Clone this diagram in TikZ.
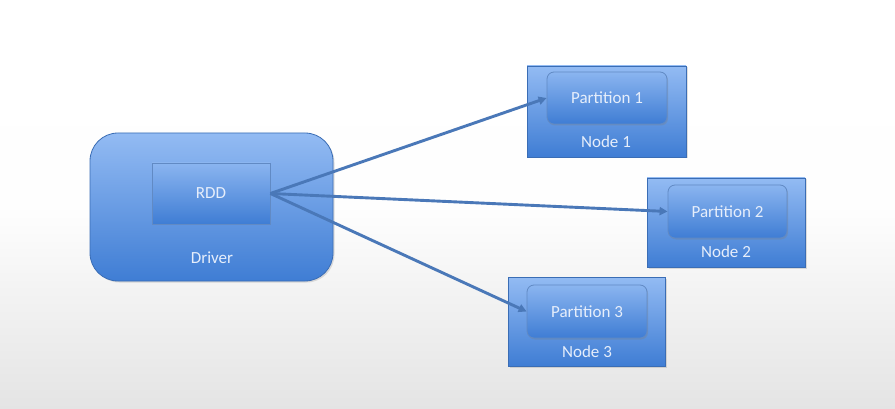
\documentclass[tikz,border=0pt]{standalone}
\usepackage{fontspec}
\setmainfont{Carlito}
\usetikzlibrary{arrows.meta,shadows}
\definecolor{boxtop}{HTML}{93BBF3}
\definecolor{boxbot}{HTML}{3F7DD4}
\definecolor{boxline}{HTML}{3A6DB5}
\definecolor{arrowc}{HTML}{4A78B8}
\definecolor{txt}{HTML}{E6EEFB}
\definecolor{bgbot}{HTML}{E4E4E4}
\begin{document}
\begin{tikzpicture}[x=1pt,y=-1pt,
  outerbox/.style={draw=boxline,line width=0.8pt,top color=boxtop,bottom color=boxbot,drop shadow={opacity=0.25,shadow xshift=1.5pt,shadow yshift=-1.5pt}},
  innerbox/.style={draw=boxline!80,line width=0.8pt,top color=boxtop!90!boxbot,bottom color=boxbot,rounded corners=7pt,drop shadow={opacity=0.3,shadow xshift=1pt,shadow yshift=-1.5pt},text=txt,font=\fontsize{17}{19}\selectfont},
  lbl/.style={text=txt,font=\fontsize{17}{19}\selectfont},
  conn/.style={draw=arrowc,line width=2.9pt,-{Triangle[length=8pt,width=8pt]}}]
\shade[top color=white,bottom color=bgbot,middle color=white!97!bgbot] (0,0) rectangle (895,409);
\useasboundingbox (0,0) rectangle (895,409);
% driver
\path[outerbox,rounded corners=28pt] (90,133) rectangle (333,281);
\node[innerbox,rounded corners=0pt,minimum width=118pt,minimum height=61pt] (rdd) at (211,193.5) {RDD};
\node[lbl] (driver) at (212,258) {Driver};
% node 1
\path[outerbox] (527,66) rectangle (686,157);
\node[innerbox,minimum width=120pt,minimum height=52pt] (p1) at (607,98) {Partition 1};
\node[lbl] (n1) at (606,142) {Node 1};
% node 2
\path[outerbox] (647,178) rectangle (805,267);
\node[innerbox,minimum width=119pt,minimum height=53pt] (p2) at (727.5,211.5) {Partition 2};
\node[lbl] (n2) at (726,252) {Node 2};
% node 3
\path[outerbox] (508,277) rectangle (665,366);
\node[innerbox,minimum width=120pt,minimum height=53pt] (p3) at (587,311.5) {Partition 3};
\node[lbl] (n3) at (587,352) {Node 3};
% connectors
\coordinate (src) at (rdd.east);
\draw[conn] (src) -- (p1.west);
\draw[conn] (src) -- (p2.west);
\draw[conn] (src) -- (p3.west);
\end{tikzpicture}
\end{document}
